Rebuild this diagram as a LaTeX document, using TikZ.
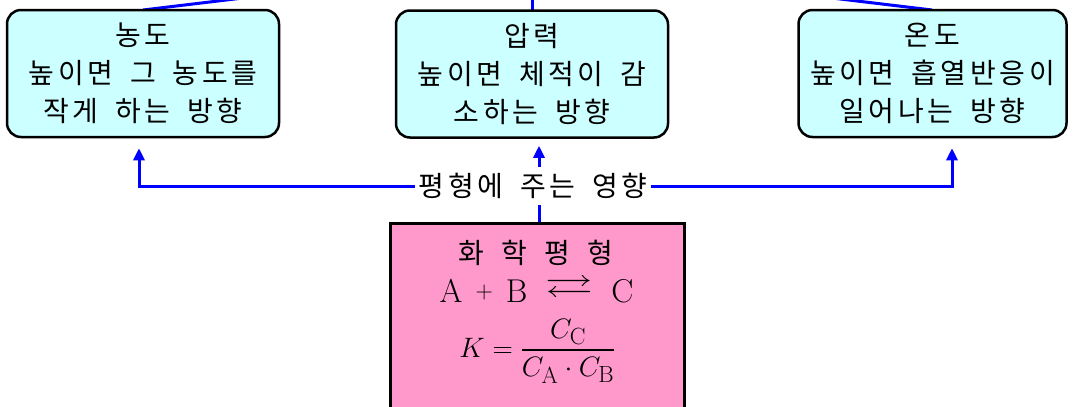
\documentclass[tikz,border=0pt]{standalone}
\usepackage{amsmath,amssymb}
\usepackage{graphicx}
\usepackage{fontspec}
\newfontfamily\kr[LetterSpace=13,WordSpace=1.7]{Noto Sans CJK KR}
\usetikzlibrary{arrows.meta}
\definecolor{boxcyan}{RGB}{204,255,255}
\definecolor{boxpink}{RGB}{255,153,204}
\newcommand\rlarrows{\raisebox{4.75pt}{\scalebox{1.45}[1]{$\rightleftarrows$}}}
\begin{document}
\begin{tikzpicture}[x=1pt,y=-1pt,
  cbox/.style={draw=black,line width=2.5pt,rounded corners=14pt,fill=boxcyan,
    minimum width=272pt,minimum height=127pt,align=center,inner sep=0pt,
    font=\kr\fontsize{28}{38}\selectfont},
  link/.style={draw=blue,line width=3pt},
  arr/.style={link,-{Triangle[length=12pt,width=11pt]}},
  krtext/.style={font=\kr\fontsize{28}{30}\selectfont}
]
\useasboundingbox (0,0) rectangle (1074,407);
% partial connectors leaving the picture at the top
\coordinate (e1) at (243,-2);
\coordinate (e2) at (532,-2);
\coordinate (e3) at (832,-2);
\draw[link] (143,10) -- (e1);
\draw[link] (532,10) -- (e2);
\draw[link] (932,10) -- (e3);
% boxes
\node[cbox] (c) at (143,73.5) {농도\\높이면 그 농도를\\작게 하는 방향};
\node[cbox] (p) at (532,74) {압력\\높이면 체적이 감\\소하는 방향};
\node[cbox,minimum width=268pt] (t) at (932.5,73.5) {온도\\높이면 흡열반응이\\일어나는 방향};
\node[draw=black,line width=3pt,fill=boxpink,minimum width=294pt,minimum height=220pt,
  anchor=north] (eq) at (537.5,222) {};
% label
\node[krtext,inner xsep=4pt,inner ysep=6pt] (lbl) at (533,186) {평형에 주는 영향};
% connectors
\draw[arr] (lbl.west) -| ([xshift=-4pt,yshift=-10pt]c.south);
\draw[arr] (lbl.east) -| ([xshift=19.5pt,yshift=-10pt]t.south);
\draw[link] ([xshift=1.5pt]eq.north) -- ([xshift=6pt]lbl.south);
\draw[arr] ([xshift=6pt]lbl.north) -- ([xshift=7pt,yshift=-7pt]p.south);
% content of pink box
\node[krtext] (h) at (536,253) {화\hspace{17pt}학\hspace{17pt}평\hspace{17pt}형};
\node[font=\fontsize{33}{36}\selectfont,anchor=base,inner sep=0pt] (r) at (536.5,302)
  {A\hspace{13pt}\raisebox{3.5pt}{\fontsize{24}{24}\selectfont +}\hspace{13pt}B\hspace{18pt}\rlarrows\hspace{18pt}C};
\node[font=\fontsize{24.88}{30}\selectfont,inner sep=0pt] (k) at (537.5,351)
  {\scalebox{1.13}{$K=\dfrac{C_{\mathrm{C}}}{C_{\mathrm{A}}\cdot C_{\mathrm{B}}}$}};
\end{tikzpicture}
\end{document}
